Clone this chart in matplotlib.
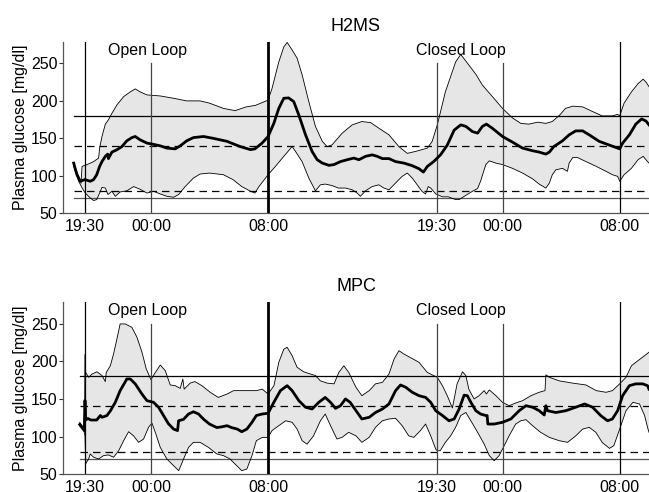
import numpy as np
import matplotlib
matplotlib.use("Agg")
import matplotlib.pyplot as plt

plt.rcParams['font.family'] = ['Liberation Sans', 'DejaVu Sans']

# hours after 18:00 on day 1
tick_pos = [1.5, 6.0, 14.0, 25.5, 30.0, 38.0]
tick_labels = ["19:30", "00:00", "08:00", "19:30", "00:00", "08:00"]
titles = ["H2MS", "MPC"]
ref_solid = [180, 70]
ref_dashed = [140, 80]

# ---------------- H2MS ----------------
h2_mean_t = [0.73,0.95,1.18,1.5,1.86,2.09,2.3,2.5,2.66,2.89,3.05,3.1,3.34,3.68,4.02,4.36,4.7,4.93,5.27,5.73,
             6.18,6.64,7.09,7.66,8.0,8.45,8.9,9.59,10.27,11.2,12.1,12.8,13.1,13.59,14.0,14.39,14.73,15.07,15.4,15.75,
             16.1,16.55,17.0,17.35,17.7,18.15,18.5,18.94,19.4,19.85,20.2,20.65,21.1,21.45,21.8,22.25,22.7,23.27,23.84,24.3,
             24.6,24.87,25.3,25.77,26.23,26.7,27.15,27.5,27.95,28.3,28.63,28.9,29.3,30.0,30.68,31.37,32.05,32.5,32.96,33.2,
             33.5,34.1,34.55,35.0,35.47,35.92,36.6,37.3,37.86,38.0,38.2,38.66,39.1,39.5,39.8,40.0]
h2_mean = [117,101.5,92.7,95,92.7,95,101.5,112.6,119,126,129,123,131.7,134.8,139,146.8,151,152.5,148,143.7,
           142,140,137,136,140,146.8,151,152.5,150,146,139,135,136,143.7,152.5,170,190,203.5,204,199,
           181,155,132.6,121.5,117,114,115,119,121.5,123.7,121.5,126,128,126,123,123,119,117,113.5,109.5,
           105,112.6,119,128,141,161,168,166,159,157,166,169,163.6,152.5,145,137,133.5,131.7,129,131.7,
           139,146.8,154.7,160,160,154.7,146,141,137,136,143.7,154.7,169,176,173,168]

h2_up_t = [0.73,1.07,1.23,1.3,1.64,2.09,2.43,2.5,2.66,2.89,3.1,3.34,3.68,4.14,4.59,4.93,5.27,5.73,6.64,7.55,
           8.45,9.36,10.0,10.95,11.75,12.5,13.13,14.0,14.27,14.73,15.07,15.3,15.64,15.98,16.32,16.78,17.23,17.7,18.03,18.37,
           19.06,19.74,20.4,21.0,21.56,22.25,22.93,23.5,24.07,24.87,25.2,25.55,26.1,26.8,27.15,27.7,28.2,28.63,29.3,30.0,
           30.7,31.25,31.8,32.4,32.96,33.4,33.9,34.3,34.8,35.47,36.15,36.8,37.5,37.86,38.0,38.3,38.8,39.25,39.6,39.8,40.0]
h2_up = [116,99.3,90,112.6,115,119,123.7,137,152.5,169,174.7,183.5,194.6,205.7,212,216,212,208,206.6,203.5,
         200,200,197,190,187,192,194,201,216.8,252,272,278,268,257,235,199,166,146,139,141.4,
         157,168,172.5,171,163.6,154.7,139,130,132.6,137,146,168,212,252,262,248,235,221,206,190,
         177,170,169,171.6,170,172.5,181,190,193,192,185.8,180,180,182,180,197,212,223,229,225,219]

h2_lo_t = [0.73,1.07,1.3,1.52,1.86,2.09,2.3,2.5,2.66,2.89,3.07,3.34,3.57,3.9,4.36,4.82,5.27,5.73,6.18,6.64,
           7.09,7.55,7.89,8.34,8.9,9.36,10.0,10.95,11.6,12.2,12.8,13.1,13.35,14.0,14.5,15.07,15.64,15.87,16.32,16.78,
           17.23,17.57,17.9,18.37,18.8,19.28,19.74,20.08,20.3,20.65,21.1,21.56,21.9,22.25,22.7,23.15,23.5,23.84,24.18,24.5,
           24.75,24.93,25.1,25.45,25.9,26.3,26.8,27.04,27.5,27.95,28.3,28.5,28.86,29.1,29.55,30.0,30.68,31.37,32.05,32.5,
           32.96,33.2,33.4,33.64,34.1,34.43,34.55,34.8,35.1,35.7,36.4,37.07,37.5,37.86,38.0,38.3,38.8,39.25,39.6,39.9,40.0]
h2_lo = [112.6,92.7,84,77,70.5,67,68.3,77,84.6,83.7,75,79.4,72.7,78.5,80,85.7,82,77,79.4,75.8,
         72.7,71.4,75,85.7,97,102.4,103.7,101.5,95,85.7,79.4,77,85,101.5,112.6,126,139,132.6,119,97,
         80,88,89,87,83.7,83.7,81.4,77,72.7,80,85.7,88,83.7,81.4,90.4,99.3,103.7,97,88,79.4,
         75.8,85.7,83.7,75.8,72,72,68.3,68.3,74,79.4,83,92.7,115,120,117,115,110,103.7,96,89,
         83.7,90.4,101.5,108,110,106,117,124.6,124.6,119,112.6,106,101.5,99.3,92.7,101.5,110,121.5,126,119,117]

# ---------------- MPC ----------------
mpc_mean_t = [1.14,1.45,1.5,1.55,1.7,1.9,2.3,2.55,2.66,3.0,3.23,3.57,3.9,4.36,4.59,4.93,5.39,5.73,6.18,6.52,
              6.86,7.2,7.55,7.82,7.89,8.23,8.57,8.9,9.25,9.6,10.0,10.5,10.84,11.2,11.5,11.9,12.2,12.55,12.9,13.2,
              13.6,14.0,14.39,14.84,15.3,15.64,16.1,16.55,17.0,17.46,17.9,18.26,18.6,18.94,19.28,19.6,20.0,20.4,20.9,21.33,
              21.8,22.25,22.7,23.04,23.4,23.84,24.3,24.75,25.1,25.44,25.9,26.35,26.7,27.04,27.38,27.6,27.84,28.18,28.5,28.86,
              28.95,29.0,29.43,30.0,30.57,31.14,31.6,32.05,32.5,32.85,32.96,33.07,33.64,34.33,35.0,35.6,36.15,36.7,37.17,37.5,
              37.86,38.2,38.66,39.1,39.57,39.9,40.0]
mpc_mean = [116,108,148,122,124,122,122,128,125.6,128,134,145.5,161,176.5,176.5,170,156.5,147.7,145.5,139,
            128,117,110,108,121,123,130,133,130,123,116.7,112,113,114.5,112,110,106.5,110,119,128,
            130,131,145.5,161,167.6,161,147.7,139,136.6,145.5,152,145.5,137.5,141,150,145.5,134.4,123.4,125.6,132,
            136.6,143.3,161,168.5,165.4,158.8,154.3,152,145.5,134.4,128,121,123.4,136.6,155,154.3,145.5,134.4,130,128,
            128,116.7,116.7,119,123.4,134.4,141,139,134.4,128.7,141,134.4,132,134.4,139,143.3,139,128,121,123.4,
            134.4,154.3,167.6,170,170,167.6,163]

mpc_up_t = [1.14,1.4,1.47,1.5,1.55,1.75,1.98,2.32,2.66,2.89,2.95,3.23,3.45,3.68,3.9,4.25,4.7,5.05,5.39,5.68,
            6.0,6.3,6.64,6.98,7.32,7.66,8.0,8.18,8.27,8.68,9.0,9.48,10.05,10.6,11.2,11.64,12.55,13.2,13.6,14.0,
            14.4,14.73,15.07,15.3,15.64,15.98,16.43,16.9,17.23,17.57,18.03,18.5,18.83,19.17,19.5,20.0,20.4,20.9,21.33,21.8,
            22.25,22.6,22.93,23.27,23.7,24.3,24.86,25.3,25.55,25.9,26.23,26.58,26.9,27.27,27.5,27.7,28.06,28.4,28.75,28.9,
            29.1,29.55,30.0,30.45,30.9,31.37,31.94,32.5,32.9,32.96,33.2,33.87,34.78,35.7,36.4,37.07,37.5,38.0,38.43,38.8,
            39.25,39.7,40.0]
mpc_up = [119,112,110,209,185,178.7,183,186,181,173,185,194,209.6,229.6,249.5,249.5,245,231.8,212,190,
          175.6,185,195,187.5,168.5,167.6,164,176.5,163,171,173,167.6,158.8,152,156.5,161,161,161,163,156.5,
          167.6,198.6,216,218.5,207.4,192,186,183,181,174,171,170,185.3,194,185.3,165.4,154.3,161,170,172,
          183,203,214,209.6,205,198.6,185.3,181,178.7,167.6,154.3,138,170,186,181,163,150,154.3,161,156.5,
          162,154.3,145.5,141,144.6,147.7,154.3,158.8,161,182,178.7,174,171,168.5,161,158.8,161,170,178.7,194,
          200.8,207.4,212]

mpc_lo_t = [1.14,1.4,1.5,1.55,1.75,1.86,2.09,2.43,2.77,3.11,3.45,3.8,4.14,4.48,4.82,5.16,5.5,5.84,6.07,6.3,
            6.64,7.09,7.55,7.9,8.23,8.57,8.9,9.36,9.93,10.5,10.95,11.4,11.86,12.2,12.55,12.9,13.2,13.6,14.0,14.27,
            14.73,15.2,15.64,15.98,16.32,16.66,17.1,17.57,17.9,18.26,18.7,19.05,19.5,20.0,20.4,20.9,21.33,21.8,22.25,22.7,
            23.15,23.6,23.95,24.4,24.75,25.1,25.44,25.55,25.75,26.1,26.46,26.8,27.15,27.5,27.84,28.3,28.75,29.1,29.43,29.77,
            30.0,30.45,30.9,31.25,31.6,32.05,32.6,33.2,33.87,34.44,35.0,35.47,35.92,36.37,36.8,37.3,37.6,38.0,38.43,38.9,
            39.35,39.7,39.9,40.0]
mpc_lo = [114.5,110,101,64,70.3,77,72.6,70.3,74.8,75.7,72.6,81.3,94.6,106.5,101,92.4,96.8,112.3,118,105.7,
          85.7,70.3,61.4,54.8,70.3,85.7,92.4,92.4,85.7,77,74.8,70.3,61.4,54.8,57,74.8,94.6,99,99,108,
          114.5,121,119,110,94.6,90,101,121,130,114.5,96.8,99,105.7,101,92.4,99,112.3,121,123.4,124.3,
          114.5,101,99,108,116.7,101,83.5,81.3,81.3,92.4,101,112.3,128,132,121,105.7,90,74.8,68,74.8,
          83.5,101,116.7,121,122.5,114.5,105.7,99,94.6,92.4,101,110,112.3,105.7,92.4,84.4,88,110,134.4,145.5,
          143.3,128,112.3,105.7]

panels = [
    (h2_mean_t, h2_mean, h2_up_t, h2_up, h2_lo_t, h2_lo),
    (mpc_mean_t, mpc_mean, mpc_up_t, mpc_up, mpc_lo_t, mpc_lo),
]

W, H = 649, 492
fig = plt.figure(figsize=(W / 100, H / 100), dpi=100)
ax_boxes = [
    [63 / W, 1 - 213.3 / H, 586 / W, (213.3 - 41.7) / H],
    [63 / W, 1 - 474.3 / H, 586 / W, (474.3 - 301.7) / H],
]
FS = 11.5
for box, title, (mt, mv, ut, uv, lt, lv) in zip(ax_boxes, titles, panels):
    ax = fig.add_axes(box)
    ax.set_xlim(0, 40)
    ax.set_ylim(50, 279)
    # shaded band
    px = np.concatenate([np.asarray(ut), np.asarray(lt)[::-1]])
    py = np.concatenate([np.asarray(uv), np.asarray(lv)[::-1]])
    ax.fill(px, py, color='#e6e6e6', lw=0, zorder=1)
    ax.plot(ut, uv, color='black', lw=0.6, zorder=3)
    ax.plot(lt, lv, color='black', lw=0.6, zorder=3)
    # reference lines
    x0 = mt[0]
    ax.plot([x0, 40], [ref_solid[0]] * 2, color='black', lw=0.9, zorder=2)
    ax.plot([x0, 40], [ref_solid[1]] * 2, color='#555555', lw=0.9, zorder=2)
    for r in ref_dashed:
        ax.plot([x0, 40], [r, r], color='black', lw=0.9, ls=(0, (6, 4)), zorder=2)
    # vertical markers
    full = {1.5: 0.9, 14.0: 2.0, 38.0: 0.9}
    for p in tick_pos:
        if p in full:
            ax.axvline(p, color='black', lw=full[p], zorder=4)
        else:
            ax.plot([p, p], [50, 250], color='#444444', lw=0.9, zorder=4)
    ax.plot(mt, mv, color='black', lw=2.0, zorder=5)
    # annotations
    ax.text(5.74, 267, "Open Loop", ha='center', va='center', fontsize=FS)
    ax.text(27.15, 267, "Closed Loop", ha='center', va='center', fontsize=FS)
    ax.set_title(title, fontsize=13, pad=8)
    ax.set_xticks(tick_pos)
    ax.set_xticklabels(tick_labels, fontsize=FS)
    ax.set_yticks([50, 100, 150, 200, 250])
    ax.tick_params(axis='y', labelsize=FS, length=3, width=0.8, pad=1, color='#333333')
    ax.tick_params(axis='x', length=0, pad=4)
    ax.set_ylabel("Plasma glucose [mg/dl]", fontsize=FS, labelpad=2)
    for s in ['top', 'right']:
        ax.spines[s].set_visible(False)
    for s in ['left', 'bottom']:
        ax.spines[s].set_color('#555555')
        ax.spines[s].set_linewidth(0.9)

fig.savefig("out.png", dpi=100)
